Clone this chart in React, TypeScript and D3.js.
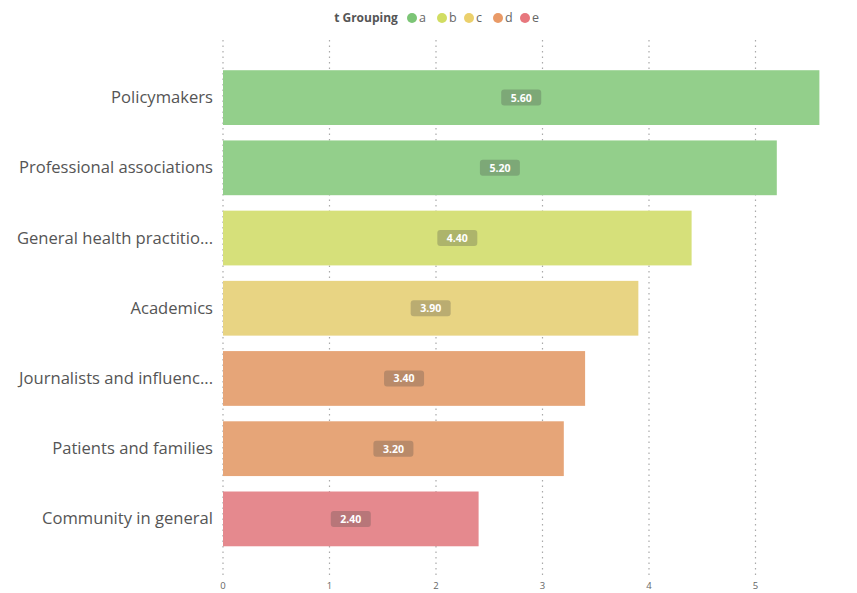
import React from "react";
import * as d3 from "d3";

const categories = [
  "Policymakers",
  "Professional associations",
  "General health practitio...",
  "Academics",
  "Journalists and influenc...",
  "Patients and families",
  "Community in general",
];
const values = [5.6, 5.2, 4.4, 3.9, 3.4, 3.2, 2.4];
const groups = ["a", "a", "b", "c", "d", "d", "e"];
const groupKeys = ["a", "b", "c", "d", "e"];
const groupColors = ["#93cf8b", "#d6e07a", "#e8d483", "#e6a578", "#e5898e"];
const legendColors = ["#7cc576", "#d1dd62", "#ebd06c", "#e99a67", "#e7777d"];
const xTicks = [0, 1, 2, 3, 4, 5];
const legendTitle = "t Grouping";

export default function App() {
  const W = 857, H = 593;
  const x = d3.scaleLinear().domain([0, 5]).range([223, 755.5]);
  const y = d3.scaleBand<string>().domain(categories).range([62.5, 554]).paddingInner(0.22).paddingOuter(0.11);
  const color = d3.scaleOrdinal<string, string>().domain(groupKeys).range(groupColors);
  const font = "'Open Sans', 'Noto Sans', sans-serif";
  const legendX = [412, 442, 469, 498, 525];
  return (
    <svg width={W} height={H} style={{ position: "absolute", left: 0, top: 0, background: "#fff" }} fontFamily={font}>
      {xTicks.map((t) => (
        <line key={t} x1={x(t)} x2={x(t)} y1={40} y2={576} stroke="#aaa" strokeWidth={1.2} strokeDasharray="1.5,4" />
      ))}
      {categories.map((c, i) => {
        const y0 = y(c)!;
        const bw = y.bandwidth();
        const x1 = x(values[i]);
        const cx = (x(0) + x1) / 2;
        const label = values[i].toFixed(2);
        return (
          <g key={c}>
            <rect x={x(0)} y={y0} width={x1 - x(0)} height={bw} fill={color(groups[i])} />
            <rect x={cx - 20} y={y0 + bw / 2 - 8} width={40} height={16} rx={3} fill="rgba(70,70,70,0.28)" />
            <text x={cx} y={y0 + bw / 2 + 4} textAnchor="middle" fontSize={10.5} fontWeight="bold" fill="#fff">{label}</text>
            <text x={213} y={y0 + bw / 2 + 5.5} textAnchor="end" fontSize={16.6} fill="#555">{c}</text>
          </g>
        );
      })}
      {xTicks.map((t) => (
        <text key={"l" + t} x={x(t)} y={589} textAnchor="middle" fontSize={9.5} fill="#666">{t}</text>
      ))}
      <text x={366} y={22} textAnchor="middle" fontSize={12} fontWeight="bold" fill="#555">{legendTitle}</text>
      {groupKeys.map((g, i) => (
        <g key={g}>
          <circle cx={legendX[i]} cy={18} r={5} fill={legendColors[i]} />
          <text x={legendX[i] + 7} y={22} fontSize={12.5} fill="#666">{g}</text>
        </g>
      ))}
    </svg>
  );
}
